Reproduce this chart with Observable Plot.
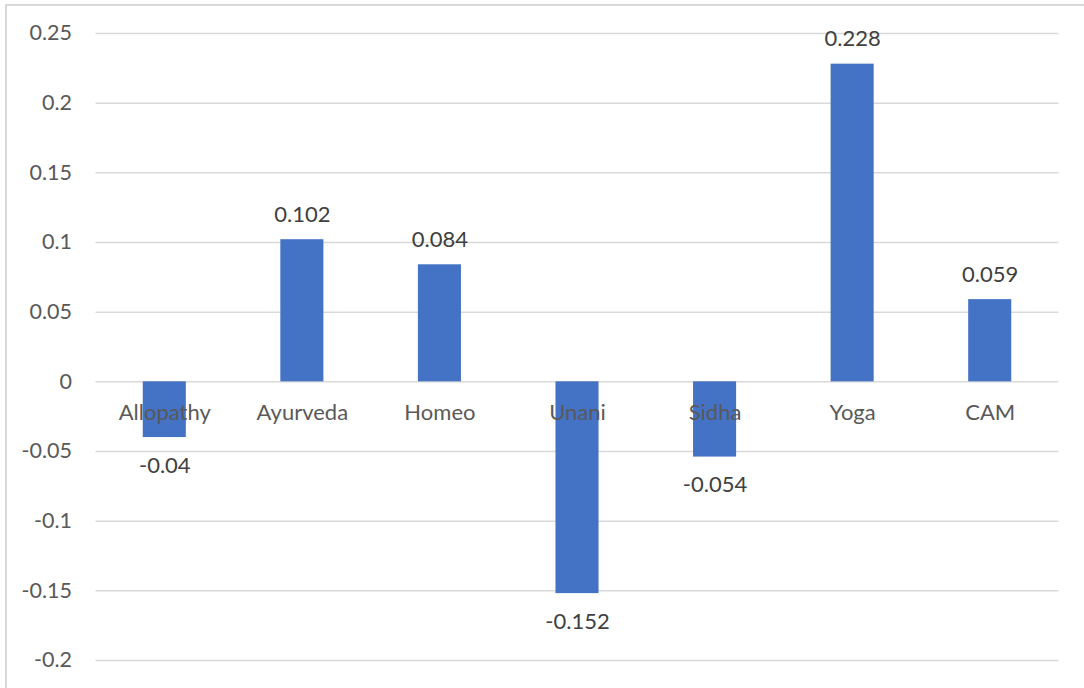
<!DOCTYPE html>
<html>
<head>
<meta charset="utf-8">
<script src="https://cdn.jsdelivr.net/npm/d3@7"></script>
<script src="https://cdn.jsdelivr.net/npm/@observablehq/plot@0.6"></script>
<style>
  html, body { margin: 0; padding: 0; background: #fff; }
  #wrap { position: relative; width: 1084px; height: 688px; overflow: hidden; }
  #frame { position: absolute; left: 5px; top: 4px; width: 1200px; height: 800px;
           border-left: 2px solid #d9d9d9; border-top: 2px solid #d9d9d9; pointer-events: none; }
  #chart { position: absolute; left: 0; top: 0; }
</style>
</head>
<body>
<div id="wrap"><div id="chart"></div><div id="frame"></div></div>
<script>
// Systems of medicine and their scores
const categories = ["Allopathy", "Ayurveda", "Homeo", "Unani", "Sidha", "Yoga", "CAM"];
const values = [-0.04, 0.102, 0.084, -0.152, -0.054, 0.228, 0.059];
const yTicks = [-0.2, -0.15, -0.1, -0.05, 0, 0.05, 0.1, 0.15, 0.2, 0.25];

const rows = categories.map((c, i) => ({category: c, value: values[i]}));
const fmt = d => String(+d.toFixed(3));

const chart = Plot.plot({
  width: 1084,
  height: 688,
  marginLeft: 95.5,
  marginRight: 25.5,
  marginTop: 33,
  marginBottom: 28,
  style: {fontFamily: "Lato, 'Open Sans', sans-serif", fontSize: "22px", color: "#595959", background: "transparent"},
  x: {domain: categories, paddingInner: 0.687, paddingOuter: 0.3435, round: false, axis: null},
  y: {domain: [-0.2, 0.25], ticks: yTicks, tickFormat: fmt},
  marks: [
    Plot.gridY(yTicks, {stroke: "#d9d9d9", strokeOpacity: 1, strokeWidth: 1.5}),
    Plot.axisY(yTicks, {tickSize: 0, tickPadding: 24, tickFormat: fmt, fill: "#595959", fontSize: 21.5, label: null}),
    Plot.barY(rows, {x: "category", y: "value", fill: "#4472C4"}),
    Plot.text(rows, {x: "category", y: () => 0, text: "category", dy: 31, fill: "#595959", fontSize: 22}),
    Plot.text(rows.filter(d => d.value >= 0), {x: "category", y: "value", text: d => fmt(d.value), dy: -25, fill: "#404040", fontSize: 22}),
    Plot.text(rows.filter(d => d.value < 0), {x: "category", y: "value", text: d => fmt(d.value), dy: 28, fill: "#404040", fontSize: 22})
  ]
});
document.getElementById("chart").appendChild(chart);
</script>
</body>
</html>
